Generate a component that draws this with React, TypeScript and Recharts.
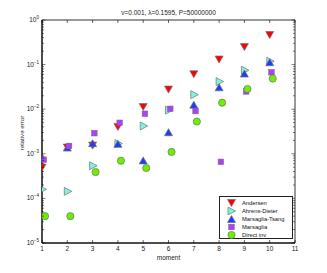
import React from "react";
import { ScatterChart, Scatter, XAxis, YAxis, ReferenceArea, Legend } from "recharts";

const moments = [1, 2, 3, 4, 5, 6, 7, 8, 9, 10];
const andersen = [4.9e-4, 1.38e-3, 1.53e-3, 4.0e-3, 0.0112, 0.0275, 0.0608, 0.13, 0.247, 0.459];
const ahrensDieter = [1.6e-4, 1.44e-4, 5.4e-4, 1.7e-3, 4.2e-3, 0.0095, 0.0212, 0.0416, 0.0748, 0.119];
const marsagliaTsang = [7.9e-4, 1.38e-3, 1.73e-3, 1.67e-3, 7.1e-4, 3.05e-3, 0.0126, 0.031, 0.063, 0.113];
const marsaglia = [7.4e-4, 1.5e-3, 2.9e-3, 4.96e-3, 7.9e-3, 0.0102, 0.0091, 6.6e-4, 0.025, 0.0674];
const directInv = [4.0e-5, 4.0e-5, 3.9e-4, 7.0e-4, 4.8e-4, 1.1e-3, 5.3e-3, 0.014, 0.0284, 0.0486];

const xTicks = [1, 2, 3, 4, 5, 6, 7, 8, 9, 10, 11];
const decades = [-5, -4, -3, -2, -1, 0];

const W = 327;
const H = 273;
const PLOT_LEFT = 42;
const PLOT_RIGHT = 295;
const PLOT_TOP = 20;
const PLOT_BOTTOM = 243;
const FONT = "Liberation Sans, Arial, sans-serif";
const EDGE = "#707070";

// major + minor ticks for the log axis
const yTicks: number[] = [];
decades.forEach((d) => {
  yTicks.push(Math.pow(10, d));
  if (d < 0) for (let m = 2; m <= 9; m++) yTicks.push(m * Math.pow(10, d));
});

const toPoints = (vals: number[], dx: number) => vals.map((v, i) => ({ x: moments[i] + dx, y: v }));

const DownTri = ({ cx, cy, fill }: any) => (
  <polygon points={`${cx - 4},${cy - 3.5} ${cx + 4},${cy - 3.5} ${cx},${cy + 3.5}`} fill={fill} stroke={EDGE} strokeWidth={0.7} />
);
const RightTri = ({ cx, cy, fill }: any) => (
  <polygon points={`${cx - 3.5},${cy - 4} ${cx - 3.5},${cy + 4} ${cx + 4},${cy}`} fill={fill} stroke={EDGE} strokeWidth={0.7} />
);
const UpTri = ({ cx, cy, fill }: any) => (
  <polygon points={`${cx - 4},${cy + 3.5} ${cx + 4},${cy + 3.5} ${cx},${cy - 3.5}`} fill={fill} stroke={EDGE} strokeWidth={0.7} />
);
const Square = ({ cx, cy, fill }: any) => (
  <rect x={cx - 2.8} y={cy - 2.8} width={5.6} height={5.6} fill={fill} stroke={EDGE} strokeWidth={0.5} />
);
const Circle = ({ cx, cy, fill }: any) => <circle cx={cx} cy={cy} r={3.6} fill={fill} stroke={EDGE} strokeWidth={0.7} />;

const series = [
  { name: "Andersen", data: andersen, dx: 0, color: "#ff0000", Shape: DownTri },
  { name: "Ahrens-Dieter", data: ahrensDieter, dx: 0.02, color: "#7ff5df", Shape: RightTri },
  { name: "Marsaglia-Tsang", data: marsagliaTsang, dx: 0, color: "#1e3cff", Shape: UpTri },
  { name: "Marsaglia", data: marsaglia, dx: 0.07, color: "#b040f5", Shape: Square },
  { name: "Direct inv", data: directInv, dx: 0.12, color: "#6cf000", Shape: Circle },
];

const XTick = ({ x, payload }: any) => (
  <g>
    <line x1={x} x2={x} y1={PLOT_BOTTOM} y2={PLOT_BOTTOM - 3} stroke="#000" strokeWidth={0.6} />
    <line x1={x} x2={x} y1={PLOT_TOP} y2={PLOT_TOP + 3} stroke="#000" strokeWidth={0.6} />
    <text x={x} y={PLOT_BOTTOM + 7.5} textAnchor="middle" fontSize={6.5} fontFamily={FONT} fill="#222">
      {payload.value}
    </text>
  </g>
);

const YTick = ({ y, payload }: any) => {
  const e = Math.log10(payload.value);
  const major = Math.abs(e - Math.round(e)) < 1e-6;
  const len = major ? 3.5 : 2;
  const p = Math.round(e);
  return (
    <g>
      <line x1={PLOT_LEFT} x2={PLOT_LEFT + len} y1={y} y2={y} stroke="#000" strokeWidth={0.5} />
      <line x1={PLOT_RIGHT} x2={PLOT_RIGHT - len} y1={y} y2={y} stroke="#000" strokeWidth={0.5} />
      {major && (
        <text x={PLOT_LEFT - 3} y={y + 2} textAnchor="end" fontSize={6.5} fontFamily={FONT} fill="#222">
          10
          <tspan dy={-3} fontSize={4.5}>
            {p === 0 ? "0" : `\u2212${-p}`}
          </tspan>
        </text>
      )}
    </g>
  );
};

const LegendBox = () => (
  <div
    style={{
      width: 74,
      height: 43,
      border: "1px solid #222",
      background: "#fff",
      boxSizing: "border-box",
      fontFamily: FONT,
      fontSize: 5.8,
      color: "#111",
      padding: "1.5px 0 0 0",
    }}
  >
    {series.map((s) => (
      <div key={s.name} style={{ display: "flex", alignItems: "center", height: 8 }}>
        <svg width={22} height={8} style={{ flex: "none" }}>
          <s.Shape cx={11.5} cy={4} fill={s.color} />
        </svg>
        <span style={{ whiteSpace: "nowrap", lineHeight: "8px" }}>{s.name}</span>
      </div>
    ))}
  </div>
);

export default function App() {
  return (
    <div style={{ position: "absolute", left: 0, top: 0, width: W, height: H, background: "#fff" }}>
      <ScatterChart width={W} height={H} margin={{ top: PLOT_TOP, right: W - PLOT_RIGHT, bottom: 0, left: 0 }}>
        <XAxis
          dataKey="x"
          type="number"
          domain={[1, 11]}
          ticks={xTicks}
          interval={0}
          allowDataOverflow
          height={H - PLOT_BOTTOM}
          stroke="#000"
          tickLine={false}
          tick={<XTick />}
        />
        <YAxis
          dataKey="y"
          type="number"
          scale="log"
          domain={[1e-5, 1]}
          ticks={yTicks}
          interval={0}
          allowDataOverflow
          width={PLOT_LEFT}
          stroke="#000"
          tickLine={false}
          tick={<YTick />}
        />
        <ReferenceArea x1={1} x2={11} y1={1e-5} y2={1} fill="none" stroke="#000" strokeWidth={0.8} ifOverflow="visible" />
        {series.map((s) => (
          <Scatter
            key={s.name}
            name={s.name}
            data={toPoints(s.data, s.dx)}
            fill={s.color}
            shape={<s.Shape fill={s.color} />}
            isAnimationActive={false}
          />
        ))}
        <Legend
          layout="vertical"
          align="center"
          verticalAlign="middle"
          content={<LegendBox />}
          wrapperStyle={{ left: 219, top: 196, width: 74, height: 43 }}
        />
        <text x={(PLOT_LEFT + PLOT_RIGHT) / 2} y={15} textAnchor="middle" fontSize={6.5} fontFamily={FONT} fill="#222">
          ν=0.001,  λ=0.1595,  P=50000000
        </text>
        <text x={(PLOT_LEFT + PLOT_RIGHT) / 2} y={259.5} textAnchor="middle" fontSize={6.5} fontFamily={FONT} fill="#222">
          moment
        </text>
        <text
          x={24}
          y={133}
          transform="rotate(-90 24 133)"
          textAnchor="middle"
          fontSize={6.2}
          fontFamily={FONT}
          fill="#222"
        >
          relative error
        </text>
      </ScatterChart>
    </div>
  );
}
